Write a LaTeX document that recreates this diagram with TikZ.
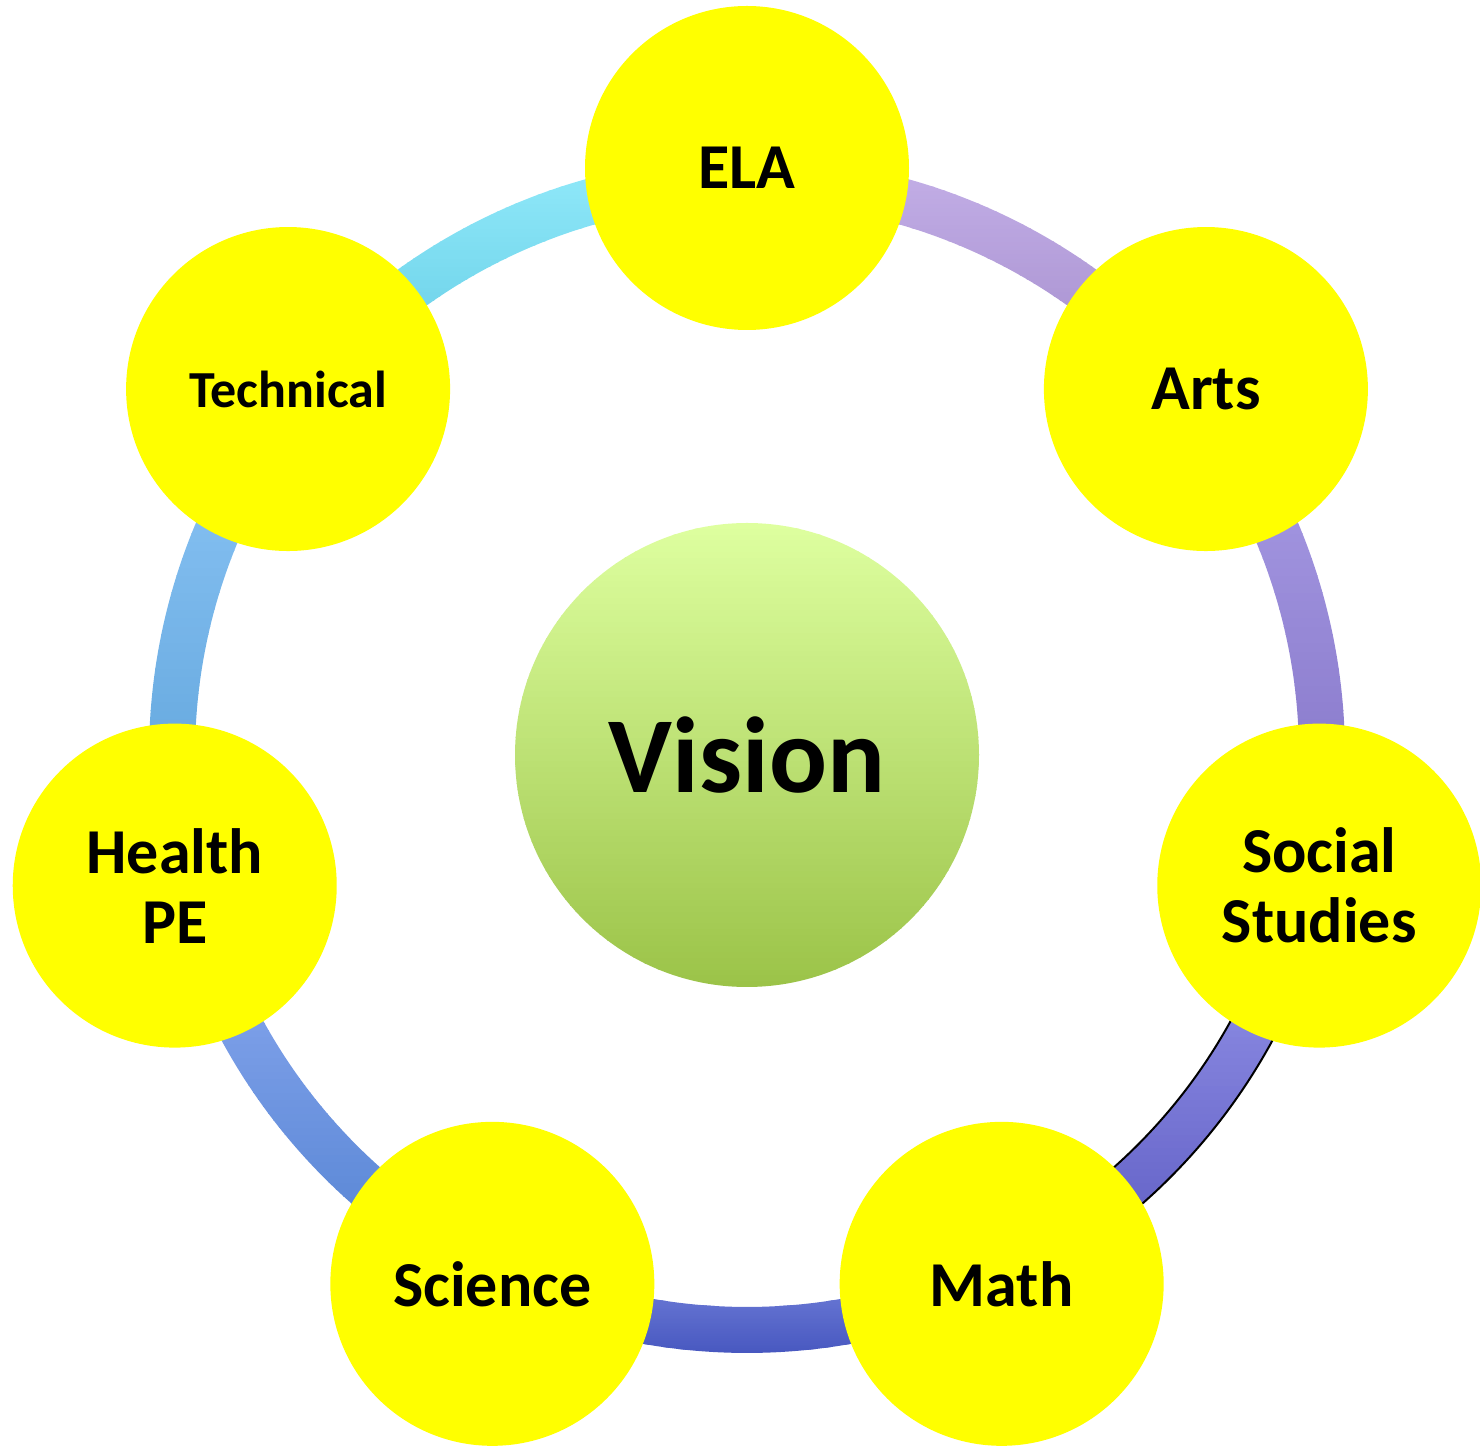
\documentclass[tikz,border=0pt]{standalone}
\usepackage{fontspec}
\setmainfont{Carlito}
\usetikzlibrary{calc}
\definecolor{cyanT}{RGB}{146,234,250}
\definecolor{cyanB}{RGB}{94,200,226}
\definecolor{lavT}{RGB}{196,176,232}
\definecolor{lavB}{RGB}{160,136,200}
\definecolor{purT}{RGB}{172,160,232}
\definecolor{purB}{RGB}{128,112,196}
\definecolor{vioT}{RGB}{156,156,238}
\definecolor{vioB}{RGB}{90,88,192}
\definecolor{bluT}{RGB}{124,138,224}
\definecolor{bluB}{RGB}{72,88,192}
\definecolor{sbT}{RGB}{146,174,244}
\definecolor{sbB}{RGB}{80,128,208}
\definecolor{skT}{RGB}{144,200,248}
\definecolor{skB}{RGB}{90,160,216}
\definecolor{visT}{RGB}{222,255,160}
\definecolor{visB}{RGB}{155,195,72}
\definecolor{subjyellow}{RGB}{255,255,0}
\tikzset{
  subj/.style={circle, fill=subjyellow, minimum size=162pt, inner sep=0pt, align=center,
    font=\bfseries\fontsize{32}{35}\selectfont},
  ringband/.style={}
}
% #1 extra style for outline, #2 start angle, #3 end angle, #4 ymin, #5 ymax, #6 top colour, #7 bottom colour
\newcommand\ringarc[7][]{%
  \begin{scope}
    \clip ($(c)+(#2:598)$) arc[start angle=#2,end angle=#3,radius=598]
      -- ($(c)+(#3:552)$) arc[start angle=#3,end angle=#2,radius=552] -- cycle;
    \foreach \i in {0,...,59} {
      \pgfmathsetmacro\pct{100*(\i+0.5)/60}
      \pgfmathsetmacro\ya{#4+(#5-#4)/60*\i}
      \pgfmathsetmacro\yb{#4+(#5-#4)/60*(\i+1)+0.6}
      \fill[#6!\pct!#7] (0,\ya) rectangle (1480,\yb);
    }
  \end{scope}
  \path[ringband,#1] ($(c)+(#2:598)$) arc[start angle=#2,end angle=#3,radius=598]
    -- ($(c)+(#3:552)$) arc[start angle=#3,end angle=#2,radius=552] -- cycle;}
\begin{document}
\begin{tikzpicture}[x=0.5pt,y=0.5pt]
\useasboundingbox (0,0) rectangle (1480,1453);
\coordinate (c) at (747,698);
% connecting arcs
\ringarc{141.4286}{90}{1042}{1296}{cyanT}{cyanB}
\ringarc{90}{38.5714}{1042}{1296}{lavT}{lavB}
\ringarc{38.5714}{-12.8571}{565}{1071}{purT}{purB}
\ringarc[draw=black,line width=1pt]{-12.8571}{-64.2857}{159}{575}{vioT}{vioB}
\ringarc{-64.2857}{-115.7143}{100}{201}{bluT}{bluB}
\ringarc{-115.7143}{-167.1429}{159}{575}{sbT}{sbB}
\ringarc{192.8571}{141.4286}{565}{1071}{skT}{skB}
% centre circle gradient
\begin{scope}
  \clip (c) circle[radius=232];
  \foreach \i in {0,...,79} {
    \pgfmathsetmacro\pct{100*(\i+0.5)/80}
    \pgfmathsetmacro\ya{466+464/80*\i}
    \pgfmathsetmacro\yb{466+464/80*(\i+1)+0.6}
    \fill[visT!\pct!visB] (500,\ya) rectangle (1000,\yb);
  }
\end{scope}
% nodes
\node[circle, minimum size=232pt, inner sep=0pt,
  font=\bfseries\fontsize{54}{60}\selectfont] (vision) at (c) {Vision};
\node[subj] (ela) at ([shift={(c)}]90:587) {ELA};
\node[subj] (arts) at ([shift={(c)}]38.5714:587) {Arts};
\node[subj] (soc) at ([shift={(c)}]-12.8571:587) {Social\\Studies};
\node[subj] (math) at ([shift={(c)}]-64.2857:587) {Math};
\node[subj] (sci) at ([shift={(c)}]-115.7143:587) {Science};
\node[subj] (hpe) at ([shift={(c)}]-167.1429:587) {Health\\PE};
\node[subj, font=\bfseries\fontsize{26}{30}\selectfont] (tech) at ([shift={(c)}]141.4286:587) {Technical};
\end{tikzpicture}
\end{document}
